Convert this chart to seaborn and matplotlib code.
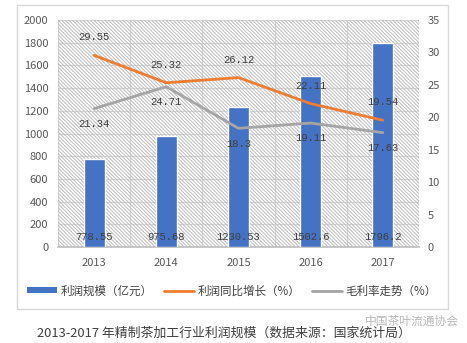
import matplotlib
matplotlib.use("Agg")
import matplotlib.pyplot as plt
import seaborn as sns
import numpy as np
import pandas as pd
from matplotlib.patches import Rectangle, Patch
from matplotlib.lines import Line2D
from matplotlib.collections import LineCollection

years = ["2013", "2014", "2015", "2016", "2017"]
profit = [778.55, 975.68, 1230.53, 1502.6, 1796.2]
growth = [29.55, 25.32, 26.12, 22.11, 19.54]
margin = [21.34, 24.71, 18.3, 19.11, 17.63]
left_ticks = [0, 200, 400, 600, 800, 1000, 1200, 1400, 1600, 1800, 2000]
right_ticks = [0, 5, 10, 15, 20, 25, 30, 35]
legend_labels = ["利润规模（亿元）", "利润同比增长（%）", "毛利率走势（%）"]
caption = "2013-2017 年精制茶加工行业利润规模（数据来源：国家统计局）"
watermark = "中国茶叶流通协会"

BLUE, ORANGE, GRAY = "#4472C4", "#ED7D31", "#A5A5A5"
TXT = "#595959"

sns.set_theme(style="white")
plt.rcParams["font.family"] = ["Noto Sans CJK SC", "DejaVu Sans"]

df = pd.DataFrame({"year": years, "profit": profit, "growth": growth, "margin": margin})

fig = plt.figure(figsize=(4.67, 3.43), dpi=100)
fig.patch.set_facecolor("white")

# outer frame around chart and legend
fig.add_artist(Rectangle((17 / 467, 1 - 309 / 343), 431 / 467, 304 / 343,
                         transform=fig.transFigure, fill=False,
                         edgecolor="#d9d9d9", linewidth=1.0))

AX_W, AX_H = 361, 227
ax = fig.add_axes([58 / 467, 1 - 247 / 343, AX_W / 467, AX_H / 343])
ax.set_facecolor("white")

sns.barplot(data=df, x="year", y="profit", color=BLUE, width=0.29,
            saturation=1, ax=ax, zorder=3)
ax.set_ylim(0, 2000)
ax.set_xlim(-0.5, 4.5)
ax.set_yticks(left_ticks)
ax.set_xlabel("")
ax.set_ylabel("")

# diagonal texture behind the plot, drawn in figure pixel space
x0, y1 = 58, 343 - 20
step = 3.6
segs = []
for k in np.arange(-AX_H, AX_W + step, step):
    segs.append([(x0 + k, y1), (x0 + k + AX_H, y1 - AX_H)])
tex = LineCollection(segs, colors="#bcbcbc", linewidths=0.7,
                     transform=None, zorder=0.6)
tex.set_clip_box(ax.bbox)
ax.add_artist(tex)

ax.set_xticks([-0.5, 0.5, 1.5, 2.5, 3.5, 4.5], minor=True)
ax.grid(axis="y", color="#d9d9d9", linewidth=0.9, zorder=1)
ax.grid(axis="x", which="minor", color="#d9d9d9", linewidth=0.9, zorder=1)
for s in ["top", "right", "left"]:
    ax.spines[s].set_visible(False)
ax.spines["bottom"].set_color("#bfbfbf")
ax.tick_params(axis="x", which="major", length=0, pad=8, labelsize=8, labelcolor=TXT)
ax.tick_params(axis="x", which="minor", length=4, color="#bfbfbf", direction="out")
ax.tick_params(axis="y", length=0, pad=7, labelsize=8, labelcolor=TXT)

for i, v in enumerate(profit):
    ax.text(i, 45, f"{v:g}", ha="center", va="bottom", fontsize=7.6,
            family="Liberation Mono", color="#404040", zorder=5)

ax2 = ax.twinx()
sns.pointplot(data=df, x="year", y="growth", color=ORANGE, markers="",
              errorbar=None, lw=2, ax=ax2)
sns.pointplot(data=df, x="year", y="margin", color=GRAY, markers="",
              errorbar=None, lw=2, ax=ax2)
ax2.set_ylim(0, 35)
ax2.set_xlim(-0.5, 4.5)
ax2.set_yticks(right_ticks)
ax2.set_ylabel("")
ax2.set_xlabel("")
ax2.patch.set_visible(False)
for s in ax2.spines.values():
    s.set_visible(False)
ax2.tick_params(axis="y", length=0, pad=6, labelsize=8, labelcolor=TXT)
ax2.grid(False)

for i, v in enumerate(growth):
    ax2.text(i, v + 2.0, f"{v:g}", ha="center", va="bottom", fontsize=7.6,
             family="Liberation Mono", color="#404040", zorder=5)
for i, v in enumerate(margin):
    ax2.text(i, v - 1.6, f"{v:g}", ha="center", va="top", fontsize=7.6,
             family="Liberation Mono", color="#404040", zorder=5)

handles = [Patch(facecolor=BLUE, edgecolor="none"),
           Line2D([], [], color=ORANGE, lw=2),
           Line2D([], [], color=GRAY, lw=2)]
fig.legend(handles, legend_labels, loc="center", bbox_to_anchor=(232 / 467, 1 - 291 / 343),
           ncol=3, frameon=False, fontsize=8.3, handlelength=2.6, handleheight=0.45,
           handletextpad=0.3, columnspacing=1.0, labelcolor="#404040")

fig.text(37 / 467, 1 - 333 / 343, caption, ha="left", va="center",
         fontsize=9.3, color="#404040")
fig.text(365 / 467, 1 - 321 / 343, watermark, ha="left", va="center",
         fontsize=8.5, color="#808080", alpha=0.55)

fig.savefig("out.png", dpi=100, facecolor="white")
